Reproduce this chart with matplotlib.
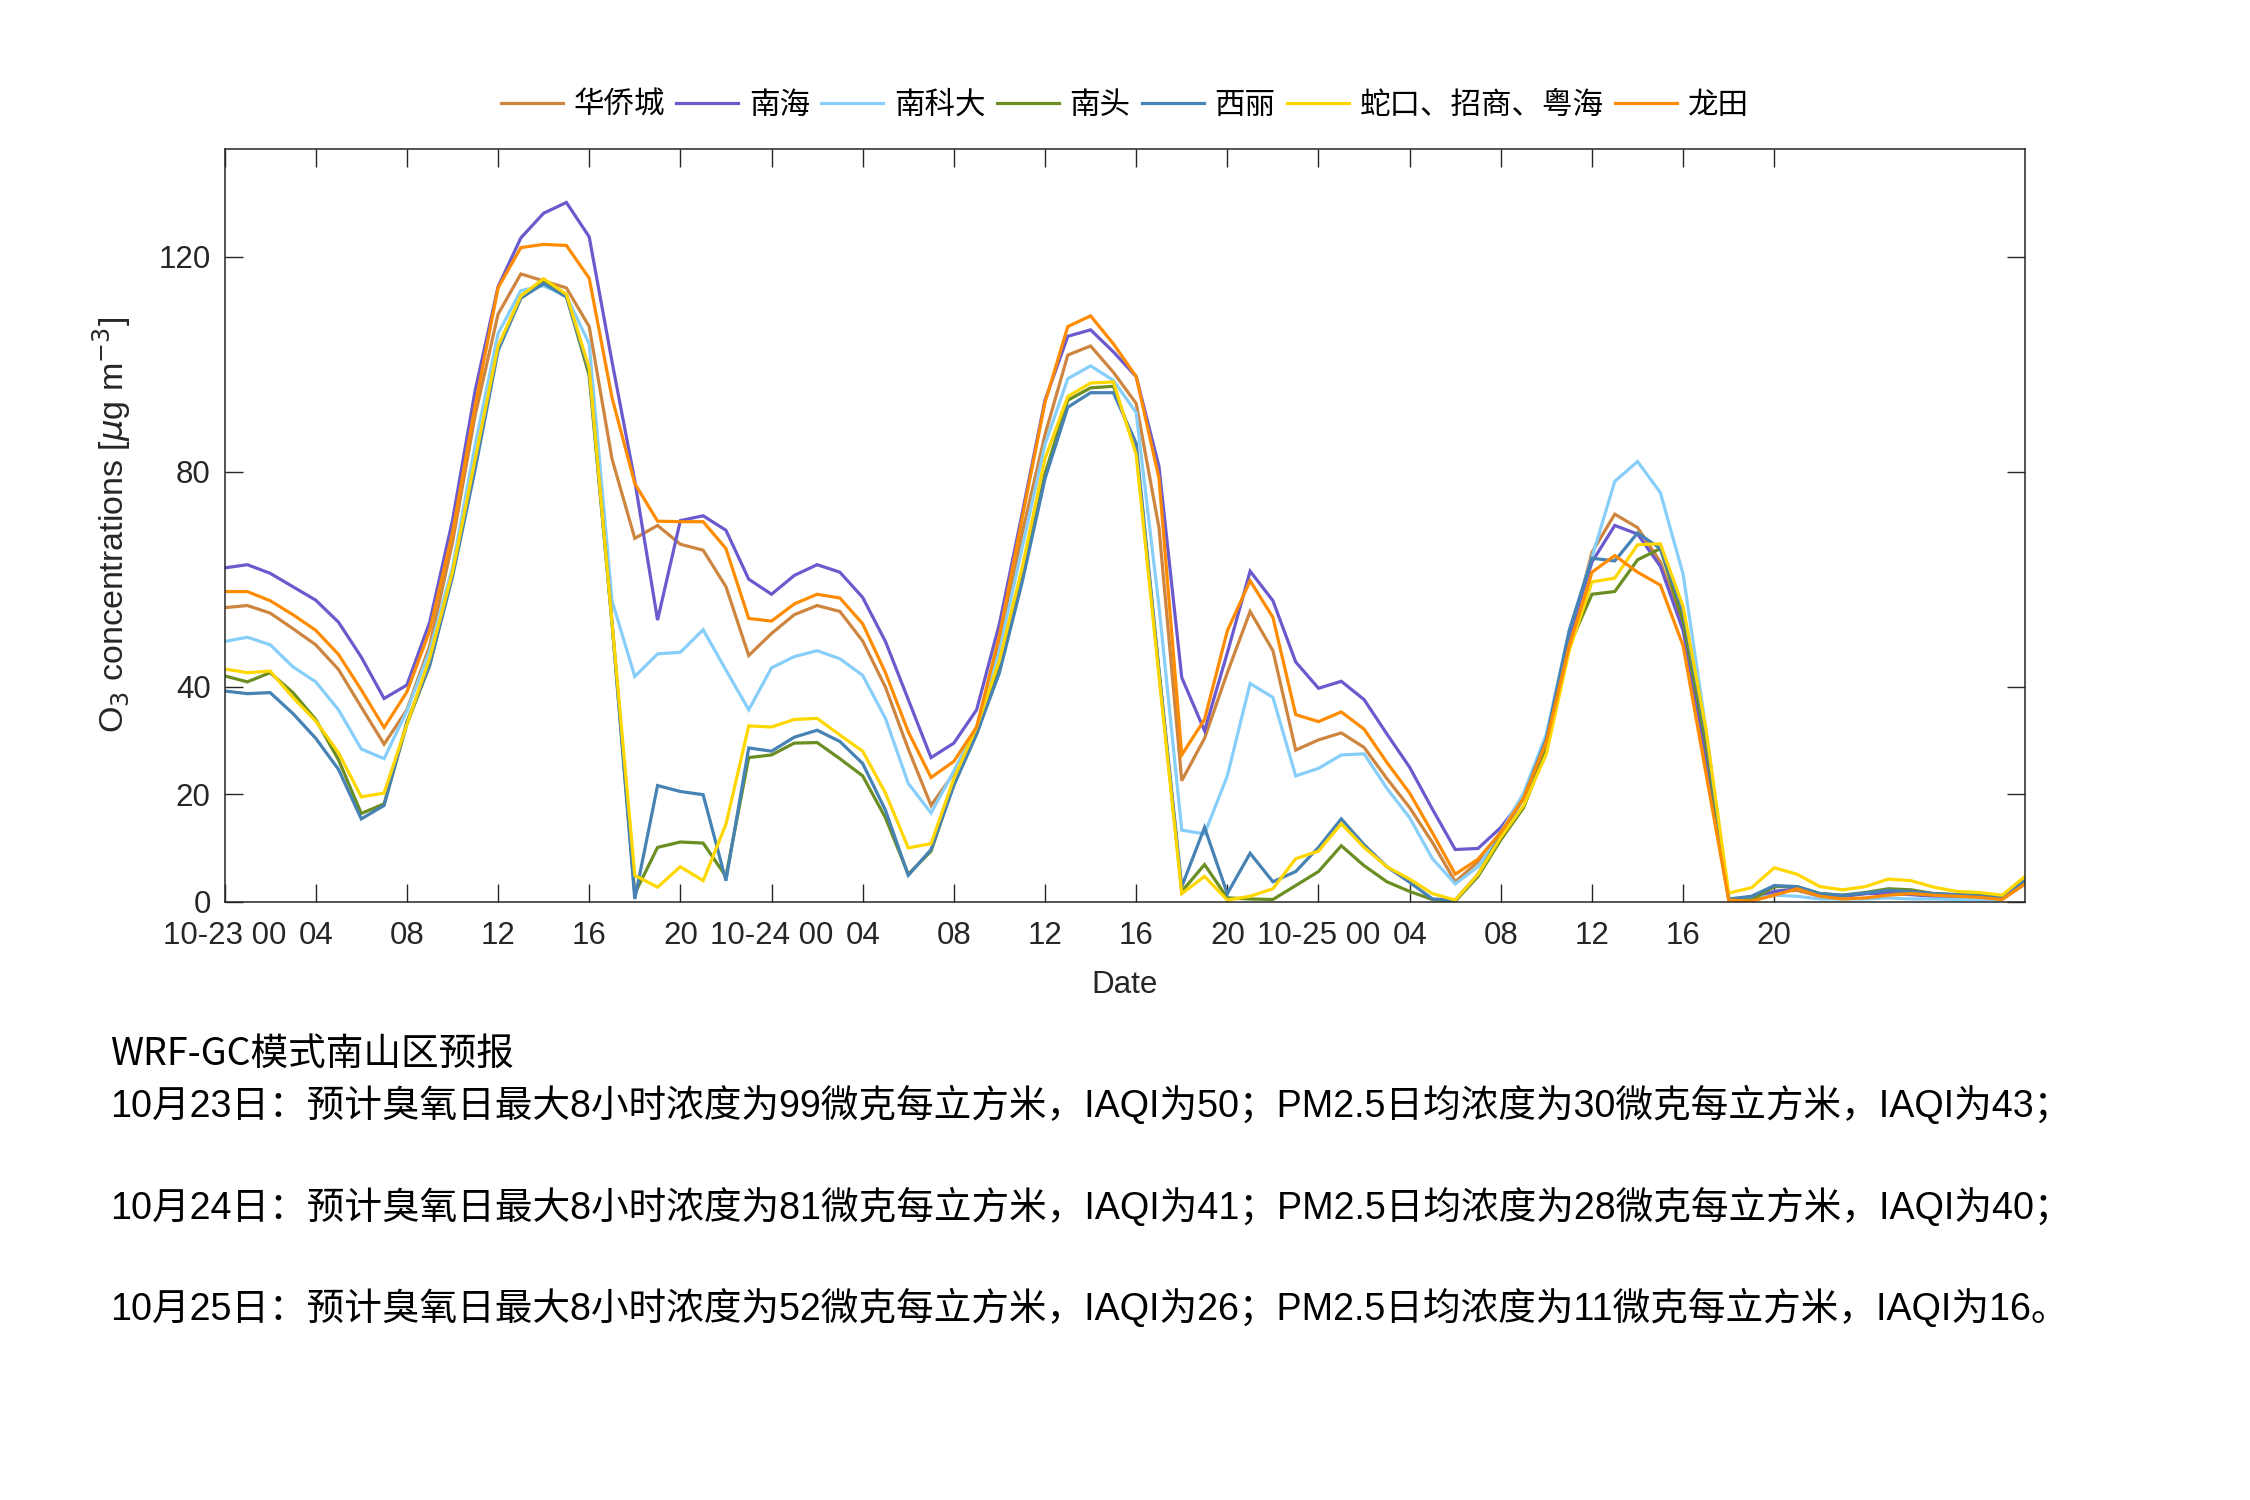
import matplotlib
matplotlib.use("Agg")
import matplotlib.pyplot as plt
from matplotlib.font_manager import FontProperties, fontManager
import numpy as np

# ---------------- data ----------------
hours = list(range(80))  # hourly from 10-23 00

huaqiaocheng = [54.7, 55.1, 53.7, 50.8, 47.8, 43.2, 36.2, 29.3, 35.7, 47.6, 66.8, 90.6, 109.3, 116.8, 115.5, 114.2, 107.0, 82.4, 67.6, 70.0, 66.5, 65.4, 58.6, 45.8, 49.9, 53.4, 55.1,
                54.0, 48.5, 39.9, 28.4, 17.9, 23.9, 32.1, 47.6, 68.6, 86.9, 101.7, 103.4, 98.5, 92.7, 69.6, 22.5, 30.4, 42.6, 54.0, 46.7, 28.2, 30.1, 31.4, 28.7, 22.9, 17.5, 11.0,
                3.7, 7.4, 12.9, 19.3, 29.3, 48.5, 65.0, 72.1, 69.6, 63.2, 51.3, 26.6, 0.5, 0.3, 1.9, 2.1, 1.0, 1.0, 1.5, 1.9, 1.5, 1.0, 1.0, 0.8, 0.5, 3.3]
nanhai = [62.1, 62.7, 61.1, 58.6, 56.1, 52.0, 45.5, 37.8, 40.3, 52.0, 70.9, 95.2, 114.4, 123.5, 128.1, 130.1, 123.7, 100.5, 78.3, 52.4, 70.9, 71.8, 69.1, 60.0, 57.2, 60.7, 62.7,
          61.3, 56.6, 48.4, 37.6, 26.8, 29.5, 35.7, 51.7, 72.3, 93.3, 105.2, 106.4, 102.3, 97.7, 81.0, 41.7, 31.8, 46.3, 61.5, 56.0, 44.6, 39.7, 41.0, 37.6, 31.2, 25.0, 17.2,
          9.7, 9.9, 13.8, 19.3, 28.9, 49.5, 63.2, 70.0, 68.4, 62.4, 50.4, 27.5, 0.5, 0.5, 1.9, 2.4, 1.0, 1.0, 1.5, 1.5, 1.3, 1.0, 0.7, 0.5, 0.7, 3.3]
nankeda = [48.4, 49.2, 47.8, 43.7, 40.9, 35.7, 28.4, 26.6, 35.5, 46.7, 62.2, 85.1, 105.7, 113.7, 114.6, 112.7, 103.8, 56.0, 41.9, 46.1, 46.4, 50.6, 43.1, 35.7, 43.5, 45.6, 46.7,
           45.2, 42.1, 34.1, 22.0, 16.5, 24.3, 32.5, 46.7, 65.9, 85.1, 97.3, 99.7, 97.0, 91.0, 55.0, 13.3, 12.6, 23.4, 40.6, 38.0, 23.4, 24.8, 27.3, 27.5, 21.1, 15.6, 8.0,
           3.3, 6.5, 12.9, 20.2, 31.2, 50.4, 64.1, 78.2, 81.9, 76.1, 60.9, 32.1, 0.5, 0.5, 1.2, 1.0, 0.5, 0.5, 0.5, 0.7, 0.5, 0.5, 0.4, 0.4, 0.4, 3.6]
nantou = [42.0, 40.9, 42.6, 38.9, 33.9, 26.4, 16.4, 18.2, 33.0, 44.0, 61.0, 81.4, 102.9, 112.3, 115.3, 112.7, 97.9, 52.0, 1.5, 10.1, 11.1, 10.9, 4.7, 26.8, 27.3, 29.5, 29.6,
          26.6, 23.4, 15.6, 5.1, 9.4, 22.0, 31.2, 43.5, 60.4, 79.6, 93.3, 95.6, 95.9, 84.0, 43.0, 1.9, 6.9, 0.7, 0.5, 0.4, 3.0, 5.6, 10.4, 6.7, 3.7, 1.9, 0.4,
          0.1, 4.7, 11.5, 17.5, 28.4, 47.6, 57.2, 57.7, 63.6, 65.7, 52.2, 29.3, 0.5, 0.3, 2.8, 2.8, 1.5, 1.2, 1.7, 2.4, 2.2, 1.5, 1.3, 1.2, 1.0, 4.0]
xili = [39.2, 38.7, 38.9, 35.0, 30.4, 24.6, 15.4, 17.9, 33.5, 44.0, 60.4, 80.5, 102.5, 112.3, 115.0, 112.5, 98.8, 52.0, 0.5, 21.6, 20.5, 19.9, 3.9, 28.6, 28.0, 30.6, 31.9,
        29.8, 25.7, 17.0, 4.9, 9.7, 21.6, 31.2, 42.6, 59.5, 78.7, 92.0, 94.7, 94.7, 85.3, 43.0, 2.8, 13.8, 1.5, 9.0, 3.7, 5.6, 10.1, 15.4, 10.6, 6.5, 3.6, 0.5,
        0.3, 5.1, 12.4, 19.3, 30.3, 50.4, 63.9, 63.4, 68.6, 65.7, 54.0, 31.2, 0.5, 1.0, 3.0, 2.8, 1.5, 1.2, 1.6, 2.1, 1.9, 1.5, 1.3, 1.0, 0.7, 3.9]
shekou = [43.3, 42.6, 42.9, 38.0, 33.6, 27.7, 19.5, 20.2, 33.0, 45.3, 61.3, 82.4, 103.4, 112.7, 115.9, 113.0, 99.3, 52.0, 4.9, 2.7, 6.5, 3.9, 14.4, 32.7, 32.5, 33.9, 34.1,
          31.0, 28.0, 20.2, 10.0, 10.8, 22.9, 32.5, 44.9, 62.2, 82.4, 94.0, 96.5, 96.7, 83.2, 42.0, 1.5, 4.7, 0.3, 1.0, 2.4, 8.0, 9.4, 14.5, 10.1, 6.5, 4.2, 1.5,
          0.3, 5.1, 12.0, 17.9, 27.5, 46.7, 59.5, 60.2, 66.4, 66.6, 54.9, 32.1, 1.6, 2.6, 6.3, 5.1, 2.8, 2.2, 2.8, 4.2, 3.9, 2.7, 1.9, 1.7, 1.2, 4.7]
longtian = [57.7, 57.7, 56.0, 53.4, 50.5, 46.0, 39.4, 32.4, 39.0, 50.4, 68.6, 92.4, 114.2, 121.7, 122.3, 122.1, 116.0, 93.8, 77.8, 70.8, 70.7, 70.7, 65.7, 52.7, 52.2, 55.4, 57.2,
            56.5, 51.7, 42.6, 31.6, 23.1, 26.1, 32.5, 49.5, 71.4, 92.9, 107.0, 109.0, 103.8, 97.7, 78.8, 27.3, 33.9, 50.4, 59.7, 52.9, 34.8, 33.5, 35.3, 32.1, 25.9, 20.2, 12.8,
            5.1, 7.9, 12.9, 19.3, 29.8, 47.6, 61.3, 64.4, 61.3, 58.9, 47.6, 23.9, 0.3, 0.1, 1.2, 2.4, 1.0, 0.5, 0.7, 1.2, 1.5, 1.2, 1.0, 0.8, 0.4, 3.3]

series_names = ["华侨城", "南海", "南科大", "南头", "西丽", "蛇口、招商、粤海", "龙田"]
series_values = [huaqiaocheng, nanhai, nankeda, nantou, xili, shekou, longtian]
series_colors = ["#CD853F", "#6A5ACD", "#87CEFA", "#6B8E23", "#4682B4", "#FFD700", "#FF8C00"]

xtick_hours = list(range(0, 69, 4))
xtick_labels = [("10-%d 00" % (23 + h // 24)) if h % 24 == 0 else "%02d" % (h % 24) for h in xtick_hours]
ytick_values = [0, 20, 40, 80, 120]

text_lines = [
    "WRF-GC模式南山区预报",
    "10月23日：预计臭氧日最大8小时浓度为99微克每立方米，IAQI为50；PM2.5日均浓度为30微克每立方米，IAQI为43；",
    "10月24日：预计臭氧日最大8小时浓度为81微克每立方米，IAQI为41；PM2.5日均浓度为28微克每立方米，IAQI为40；",
    "10月25日：预计臭氧日最大8小时浓度为52微克每立方米，IAQI为26；PM2.5日均浓度为11微克每立方米，IAQI为16。",
]
text_y = [0.297, 0.263, 0.195, 0.1276]

# ---------------- plot ----------------
dark = "#262626"
latin = ["Liberation Sans", "DejaVu Sans"]
cjk = ["Liberation Sans", "Noto Sans CJK SC", "DejaVu Sans"]
installed = {f.name for f in fontManager.ttflist}
if "Liberation Sans Narrow" in installed:
    header_family = ["Liberation Sans Narrow", "Noto Sans CJK SC", "DejaVu Sans"]
else:
    header_family = ["Noto Sans CJK SC", "DejaVu Sans"]
plt.rcParams["font.family"] = latin

fig = plt.figure(figsize=(22.5, 15), dpi=100)
ax = fig.add_axes([0.0998, 0.3989, 0.8002, 0.5016])

for name, vals, col in zip(series_names, series_values, series_colors):
    ax.plot(hours, vals, color=col, lw=2.3, label=name, solid_joinstyle="miter")

ax.set_xlim(0, 79)
ax.set_ylim(0, 140)
ax.set_xticks(xtick_hours)
ax.set_xticklabels(xtick_labels)
ax.set_yticks(ytick_values)

for s in ax.spines.values():
    s.set_color(dark)
    s.set_linewidth(1.1)
ax.tick_params(axis="both", direction="in", length=13, width=1.0, color=dark,
               labelcolor=dark, labelsize=22.5, top=True, right=True)
ax.tick_params(axis="x", pad=14)
ax.tick_params(axis="y", pad=10)

ax.set_xlabel("Date", fontsize=22.5, color=dark)
ax.xaxis.set_label_coords(0.5, -0.091)
fig.text(112 / 2250, 0.65, "O$_3$ concentrations [$\\mu$g m$^{-3}$]", rotation=90,
         ha="center", va="center", fontsize=24.5, color=dark)

fig.legend(loc="center", bbox_to_anchor=(0.4999, 0.930), ncol=7, frameon=False,
           handlelength=2.03, handletextpad=0.35, columnspacing=0.37,
           prop=FontProperties(family=["Noto Sans CJK SC", "DejaVu Sans"], size=22))

for i, (t, y) in enumerate(zip(text_lines, text_y)):
    fam = header_family if i == 0 else cjk
    fig.text(0.049, y, t, ha="left", va="center", fontsize=27.1, color="black", family=fam)

fig.savefig("out.png", dpi=100, facecolor="white")
